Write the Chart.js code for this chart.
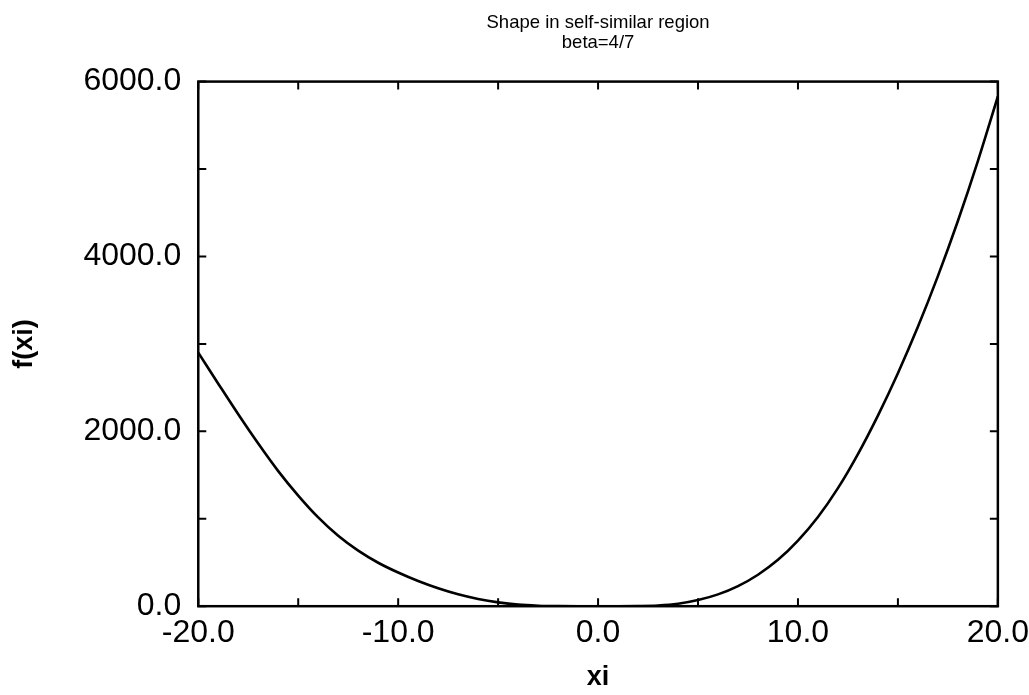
<!DOCTYPE html>
<html>
<head>
<meta charset="utf-8">
<script src="https://cdn.jsdelivr.net/npm/chart.js@4/dist/chart.umd.min.js"></script>
<style>
  html, body { margin: 0; padding: 0; background: #fff; }
  #shapeChart { display: block; }
</style>
</head>
<body>
<canvas id="shapeChart" width="1029" height="695"></canvas>
<script>
// Shape of f(xi) in the self-similar region, beta = 4/7

var xi = [-20, -19, -18, -17, -16, -15, -14, -13, -12, -11, -10,
          -9, -8, -7, -6, -5, -4, -3, -2, -1, 0,
          1, 2, 3, 4, 5, 6, 7, 8, 9, 10,
          11, 12, 13, 14, 15, 16, 17, 18, 19, 20];
var fxi = [2900, 2545, 2195, 1860, 1545, 1265, 1015, 805, 635, 497, 385,
           288, 205, 136, 83, 44, 18, 6, 1, 0, 0,
           0, 2, 8, 28, 70, 135, 230, 360, 530, 750,
           1020, 1350, 1740, 2180, 2665, 3195, 3775, 4405, 5090, 5830];

var xTicks = { min: -20, max: 20, step: 5, labelEvery: 10 };
var yTicks = { min: 0, max: 6000, step: 1000, labelEvery: 2000 };

var points = xi.map(function (v, i) { return { x: v, y: fxi[i] }; });

// closed frame with short inward ticks on all four sides
var frameTicks = {
    id: 'frameTicks',
    afterDraw: function (chart) {
        var a = chart.chartArea, c = chart.ctx;
        var sx = chart.scales.x, sy = chart.scales.y;
        c.save();
        c.strokeStyle = '#000';
        c.lineWidth = 2.5;
        c.strokeRect(a.left, a.top, a.right - a.left, a.bottom - a.top);
        c.lineWidth = 2;
        c.beginPath();
        sx.ticks.forEach(function (t) {
            var px = sx.getPixelForValue(t.value);
            c.moveTo(px, a.bottom); c.lineTo(px, a.bottom - 8);
            c.moveTo(px, a.top); c.lineTo(px, a.top + 8);
        });
        sy.ticks.forEach(function (t) {
            var py = sy.getPixelForValue(t.value);
            c.moveTo(a.left, py); c.lineTo(a.left + 8, py);
            c.moveTo(a.right, py); c.lineTo(a.right - 8, py);
        });
        c.stroke();
        c.restore();
    }
};

var ctx = document.getElementById('shapeChart');

var shapeChart = new Chart(ctx, {
    type: 'line',
    data: {
        datasets: [{
            data: points,
            borderColor: '#000',
            borderWidth: 2.6,
            pointRadius: 0,
            fill: false,
            cubicInterpolationMode: 'monotone'
        }]
    },
    options: {
        responsive: false,
        animation: false,
        layout: { padding: { left: 8, right: 0, top: 0, bottom: 1 } },
        plugins: {
            legend: { display: false },
            tooltip: { enabled: false },
            title: {
                display: true,
                fullSize: false,
                text: ['Shape in self-similar region', 'beta=4/7'],
                color: '#000',
                font: { family: 'Liberation Sans', size: 18.5, weight: 'normal', lineHeight: 1.07 },
                padding: { top: 13, bottom: 29 }
            }
        },
        scales: {
            x: {
                type: 'linear',
                min: xTicks.min,
                max: xTicks.max,
                grid: { display: false },
                border: { display: false },
                ticks: {
                    stepSize: xTicks.step,
                    color: '#000',
                    padding: 0,
                    maxRotation: 0,
                    autoSkip: false,
                    font: { family: 'Liberation Sans', size: 32 },
                    callback: function (v) { return v % xTicks.labelEvery === 0 ? v.toFixed(1) : ''; }
                },
                title: {
                    display: true,
                    text: 'xi',
                    color: '#000',
                    font: { family: 'Liberation Sans', size: 27, weight: 'bold' },
                    padding: { top: 9, bottom: 0 }
                }
            },
            y: {
                min: yTicks.min,
                max: yTicks.max,
                grid: { display: false },
                border: { display: false },
                ticks: {
                    stepSize: yTicks.step,
                    color: '#000',
                    padding: 9,
                    autoSkip: false,
                    font: { family: 'Liberation Sans', size: 32 },
                    callback: function (v) { return v % yTicks.labelEvery === 0 ? v.toFixed(1) : ''; }
                },
                title: {
                    display: true,
                    text: 'f(xi)',
                    color: '#000',
                    font: { family: 'Liberation Sans', size: 27, weight: 'bold' },
                    padding: { top: 0, bottom: 34 }
                }
            }
        }
    },
    plugins: [frameTicks]
});
</script>
</body>
</html>
